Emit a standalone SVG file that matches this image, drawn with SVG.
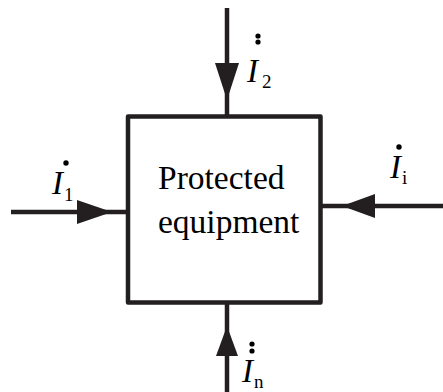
<svg xmlns="http://www.w3.org/2000/svg" width="443" height="392" viewBox="0 0 443 392">
<style>
.ln{stroke:#231f20;stroke-width:4.5;fill:none}
.ah{fill:#231f20;stroke:none}
.box{fill:#fff;stroke:#231f20;stroke-width:4.5;stroke-linejoin:round}
.t{font-family:"Liberation Serif","Times New Roman",serif;fill:#000}
.main{font-size:33.5px}
.I{font-size:33px;font-style:italic}
.sub{font-size:19px}
.dot{fill:#000}
</style>
<g id="connectors">
<line class="ln" x1="227" y1="8" x2="227" y2="116"/>
<polygon class="ah" points="215,63 239,63 227,100"/>
<line class="ln" x1="11" y1="212" x2="128" y2="212"/>
<polygon class="ah" points="77,200 77,224 112,212"/>
<line class="ln" x1="320" y1="206" x2="443" y2="206"/>
<polygon class="ah" points="375,194 375,218 342,206"/>
<line class="ln" x1="227" y1="303" x2="227" y2="392"/>
<polygon class="ah" points="216,356 238,356 227,326"/>
</g>
<g id="box">
<rect class="box" x="128" y="116.5" width="192.5" height="186"/>
<text class="t main" x="158" y="189">Protected</text>
<text class="t main" x="158" y="233">equipment</text>
</g>
<g id="label-I1">
<text class="t I" x="52" y="194">I</text>
<text class="t sub" x="64" y="201">1</text>
<circle class="dot" cx="66" cy="163" r="2.7"/>
</g>
<g id="label-I2">
<text class="t I" x="247" y="82">I</text>
<text class="t sub" x="262" y="88">2</text>
<circle class="dot" cx="258" cy="36" r="2.6"/>
<circle class="dot" cx="258" cy="42" r="2.6"/>
</g>
<g id="label-Ii">
<text class="t I" x="390" y="178">I</text>
<text class="t sub" x="402" y="184">i</text>
<circle class="dot" cx="399" cy="147" r="2.7"/>
</g>
<g id="label-In">
<text class="t I" x="242" y="382">I</text>
<text class="t sub" x="254" y="388">n</text>
<circle class="dot" cx="252" cy="344" r="2.6"/>
<circle class="dot" cx="252" cy="351" r="2.6"/>
</g>
</svg>
